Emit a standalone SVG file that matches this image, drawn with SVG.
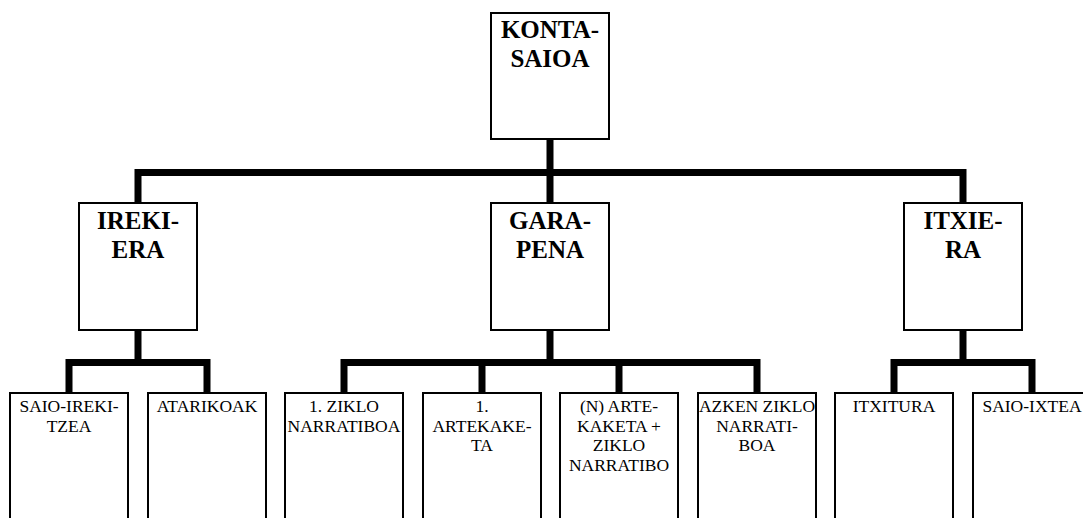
<svg xmlns="http://www.w3.org/2000/svg" width="1083" height="518" viewBox="0 0 1083 518">
  <style>
    .box { fill: #ffffff; stroke: #000000; stroke-width: 2; }
    .link { fill: none; stroke: #000000; stroke-width: 7; stroke-linejoin: miter; stroke-linecap: butt; }
    .head { font-family: "Liberation Serif", "Times New Roman", serif; font-size: 25px; font-weight: bold; text-anchor: middle; fill: #000000; }
    .leaf { font-family: "Liberation Serif", "Times New Roman", serif; font-size: 17.5px; text-anchor: middle; fill: #000000; }
  </style>
  <rect width="1083" height="518" fill="#ffffff"/>

  <!-- connectors: thick orthogonal elbow lines -->
  <g id="connectors">
    <path class="link" d="M550,139 V172.5"/>
    <path class="link" d="M138,203 V172.5 H963 V203"/>
    <path class="link" d="M550,172.5 V203"/>

    <path class="link" d="M138,330 V362.5"/>
    <path class="link" d="M69,393 V362.5 H207 V393"/>

    <path class="link" d="M550,330 V362.5"/>
    <path class="link" d="M344,393 V362.5 H757 V393"/>
    <path class="link" d="M482,362.5 V393"/>
    <path class="link" d="M619,362.5 V393"/>

    <path class="link" d="M963,330 V362.5"/>
    <path class="link" d="M894,393 V362.5 H1032 V393"/>
  </g>

  <!-- root -->
  <g id="konta-saioa">
    <rect class="box" x="491" y="13" width="118" height="126"/>
    <text class="head" x="550" y="38">KONTA-</text>
    <text class="head" x="550" y="67">SAIOA</text>
  </g>

  <!-- second level -->
  <g id="irekiera">
    <rect class="box" x="79" y="203" width="118" height="127"/>
    <text class="head" x="138" y="229">IREKI-</text>
    <text class="head" x="138" y="258">ERA</text>
  </g>
  <g id="garapena">
    <rect class="box" x="491" y="203" width="118" height="127"/>
    <text class="head" x="550" y="229">GARA-</text>
    <text class="head" x="550" y="258">PENA</text>
  </g>
  <g id="itxiera">
    <rect class="box" x="904" y="203" width="118" height="127"/>
    <text class="head" x="963" y="229">ITXIE-</text>
    <text class="head" x="963" y="258">RA</text>
  </g>

  <!-- leaves (run past the bottom edge) -->
  <g id="saio-irekitzea">
    <rect class="box" x="10" y="393" width="118" height="140"/>
    <text class="leaf" x="69" y="412">SAIO-IREKI-</text>
    <text class="leaf" x="69" y="431.5">TZEA</text>
  </g>
  <g id="atarikoak">
    <rect class="box" x="148" y="393" width="118" height="140"/>
    <text class="leaf" x="207" y="412">ATARIKOAK</text>
  </g>
  <g id="ziklo-1">
    <rect class="box" x="285" y="393" width="118" height="140"/>
    <text class="leaf" x="344" y="412">1. ZIKLO</text>
    <text class="leaf" x="344" y="431.5">NARRATIBOA</text>
  </g>
  <g id="artekaketa-1">
    <rect class="box" x="423" y="393" width="118" height="140"/>
    <text class="leaf" x="482" y="412">1.</text>
    <text class="leaf" x="482" y="431.5">ARTEKAKE-</text>
    <text class="leaf" x="482" y="451">TA</text>
  </g>
  <g id="artekaketa-n">
    <rect class="box" x="560" y="393" width="118" height="140"/>
    <text class="leaf" x="619" y="412">(N) ARTE-</text>
    <text class="leaf" x="619" y="431.5">KAKETA +</text>
    <text class="leaf" x="619" y="451">ZIKLO</text>
    <text class="leaf" x="619" y="470.5">NARRATIBO</text>
  </g>
  <g id="azken-ziklo">
    <rect class="box" x="698" y="393" width="118" height="140"/>
    <text class="leaf" x="757" y="412">AZKEN ZIKLO</text>
    <text class="leaf" x="757" y="431.5">NARRATI-</text>
    <text class="leaf" x="757" y="451">BOA</text>
  </g>
  <g id="itxitura">
    <rect class="box" x="835" y="393" width="118" height="140"/>
    <text class="leaf" x="894" y="412">ITXITURA</text>
  </g>
  <g id="saio-ixtea">
    <rect class="box" x="973" y="393" width="118" height="140"/>
    <text class="leaf" x="1032" y="412">SAIO-IXTEA</text>
  </g>
</svg>
